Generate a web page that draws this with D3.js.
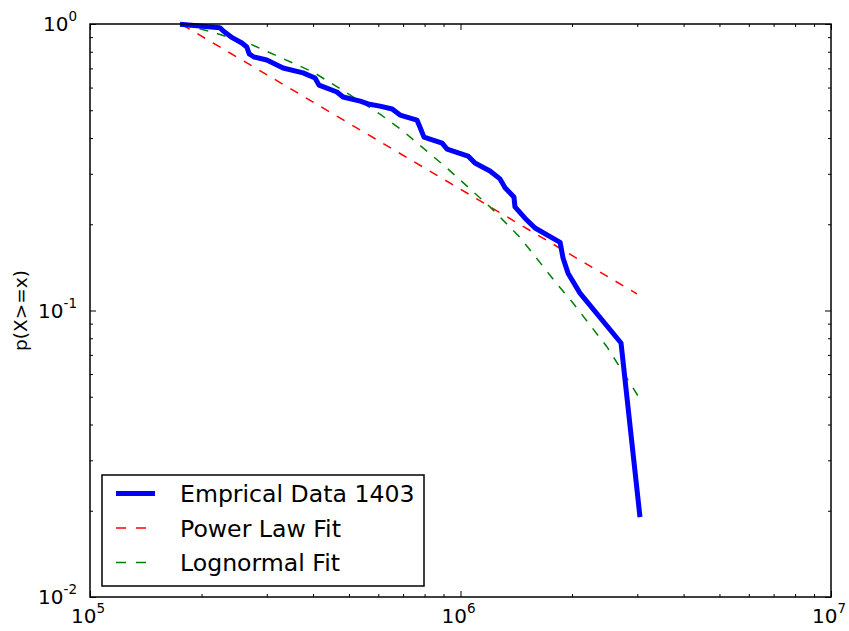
<!DOCTYPE html>
<html>
<head>
<meta charset="utf-8">
<script src="https://cdnjs.cloudflare.com/ajax/libs/d3/7.8.5/d3.min.js"></script>
<style>
body { margin: 0; background: #fff; }
text { font-family: "DejaVu Sans", sans-serif; fill: #000; }
</style>
</head>
<body>
<div id="chart"></div>
<script>
var empX = [1.75e5, 2.24e5, 2.29e5, 2.42e5, 2.57e5, 2.65e5, 2.69e5, 2.77e5, 3.00e5, 3.32e5,
  3.76e5, 4.05e5, 4.15e5, 4.64e5, 4.82e5, 5.36e5, 5.63e5, 6.06e5, 6.54e5, 6.87e5,
  7.63e5, 7.77e5, 7.97e5, 8.92e5, 9.20e5, 1.048e6, 1.094e6, 1.201e6, 1.278e6, 1.319e6,
  1.394e6, 1.403e6, 1.493e6, 1.589e6, 1.857e6, 1.891e6, 1.951e6, 2.101e6, 2.712e6, 3.051e6];
var empY = [0.998, 0.971, 0.945, 0.896, 0.858, 0.831, 0.786, 0.767, 0.749, 0.702,
  0.675, 0.648, 0.612, 0.579, 0.556, 0.538, 0.526, 0.517, 0.505, 0.481,
  0.462, 0.437, 0.403, 0.384, 0.366, 0.346, 0.327, 0.307, 0.288, 0.268,
  0.249, 0.230, 0.210, 0.194, 0.173, 0.1525, 0.135, 0.115, 0.0770, 0.0190];

// power law fit
var powX = [1.77e5, 1.0e6, 2.995e6];
var powY = [0.996, 0.265, 0.1142];

// lognormal fit
var lognX = [1.772e5, 2.108e5, 2.704e5, 4.0e5, 4.94e5, 6.063e5, 6.996e5, 9.196e5,
  1.201e6, 1.447e6, 1.822e6, 2.012e6, 2.486e6, 3.051e6];
var lognY = [0.996, 0.942, 0.852, 0.680, 0.574, 0.485, 0.423, 0.314,
  0.230, 0.180, 0.1237, 0.1062, 0.0746, 0.0491];

var xTickExp = [5, 6, 7];
var yTickExp = [-2, -1, 0];
var legendLabels = ["Emprical Data 1403", "Power Law Fit", "Lognormal Fit"];

var margin = { top: 24, right: 18, bottom: 34, left: 90 };
var width = 849 - margin.left - margin.right;
var height = 631 - margin.top - margin.bottom;

var svg = d3.select("#chart")
  .append("svg")
  .attr("width", 849)
  .attr("height", 631)
  .append("g")
  .attr("transform", "translate(" + margin.left + "," + margin.top + ")");

var x = d3.scaleLog().domain([1e5, 1e7]).range([0, width]);
var y = d3.scaleLog().domain([1e-2, 1]).range([height, 0]);

var majorX = xTickExp.map(function (e) { return Math.pow(10, e); });
var majorY = yTickExp.map(function (e) { return Math.pow(10, e); });
var minorX = x.ticks().filter(function (v) { return majorX.indexOf(v) < 0; });
var minorY = y.ticks().filter(function (v) { return majorY.indexOf(v) < 0; });

// ticks on all four sides, pointing in
function addAxis(axisFn, scale, vals, size, transform) {
  var g = svg.append("g")
    .attr("transform", transform)
    .call(axisFn(scale).tickValues(vals).tickSize(-size).tickFormat(""));
  g.select(".domain").remove();
  g.selectAll(".tick line").attr("stroke", "#000").attr("stroke-width", 1);
}
addAxis(d3.axisBottom, x, majorX, 6, "translate(0," + height + ")");
addAxis(d3.axisBottom, x, minorX, 3, "translate(0," + height + ")");
addAxis(d3.axisTop, x, majorX, 6, "translate(0,0)");
addAxis(d3.axisTop, x, minorX, 3, "translate(0,0)");
addAxis(d3.axisLeft, y, majorY, 6, "translate(0,0)");
addAxis(d3.axisLeft, y, minorY, 3, "translate(0,0)");
addAxis(d3.axisRight, y, majorY, 6, "translate(" + width + ",0)");
addAxis(d3.axisRight, y, minorY, 3, "translate(" + width + ",0)");

// tick labels 10^n
xTickExp.forEach(function (e) {
  var t = svg.append("text")
    .attr("x", x(Math.pow(10, e)) - 2)
    .attr("y", height + 26)
    .attr("text-anchor", "middle")
    .style("font-size", "20px");
  t.append("tspan").text("10");
  t.append("tspan").attr("dy", -10).style("font-size", "13.5px").text(e);
});
yTickExp.forEach(function (e) {
  var t = svg.append("text")
    .attr("x", -13)
    .attr("y", y(Math.pow(10, e)) + 7)
    .attr("text-anchor", "end")
    .style("font-size", "20px");
  t.append("tspan").text("10");
  t.append("tspan").attr("dy", -10).style("font-size", "13.5px").text(e);
});

svg.append("text")
  .attr("transform", "translate(" + (-63) + "," + (height / 2) + ") rotate(-90)")
  .attr("text-anchor", "middle")
  .style("font-size", "18.5px")
  .text("p(X>=x)");

var line = d3.line()
  .x(function (d) { return x(d[0]); })
  .y(function (d) { return y(d[1]); });

function zip(a, b) { return a.map(function (v, i) { return [v, b[i]]; }); }

svg.append("path")
  .datum(zip(powX, powY))
  .attr("d", line)
  .attr("fill", "none")
  .attr("stroke", "#ff0000")
  .attr("stroke-width", 1.5)
  .attr("stroke-dasharray", "9,9");

svg.append("path")
  .datum(zip(lognX, lognY))
  .attr("d", line)
  .attr("fill", "none")
  .attr("stroke", "#008000")
  .attr("stroke-width", 1.5)
  .attr("stroke-dasharray", "9,9");

svg.append("path")
  .datum(zip(empX, empY))
  .attr("d", line)
  .attr("fill", "none")
  .attr("stroke", "#0000ff")
  .attr("stroke-width", 5)
  .attr("stroke-linejoin", "round");

// frame
svg.append("rect")
  .attr("width", width)
  .attr("height", height)
  .attr("fill", "none")
  .attr("stroke", "#000")
  .attr("stroke-width", 1.5);

// legend
var legend = svg.append("g").attr("transform", "translate(12," + (height - 122) + ")");
legend.append("rect")
  .attr("width", 322)
  .attr("height", 111)
  .attr("fill", "#fff")
  .attr("stroke", "#000")
  .attr("stroke-width", 1.5);
var legColors = ["#0000ff", "#ff0000", "#008000"];
var legWidths = [5, 1.5, 1.5];
var legDash = [null, "10,10", "10,10"];
legendLabels.forEach(function (lab, i) {
  var cy = 18.5 + i * 34.5;
  legend.append("line")
    .attr("x1", 14).attr("x2", 53)
    .attr("y1", cy).attr("y2", cy)
    .attr("stroke", legColors[i])
    .attr("stroke-width", legWidths[i])
    .attr("stroke-dasharray", legDash[i]);
  legend.append("text")
    .attr("x", 78)
    .attr("y", cy + 8.5)
    .style("font-size", "23.6px")
    .text(lab);
});
</script>
</body>
</html>
